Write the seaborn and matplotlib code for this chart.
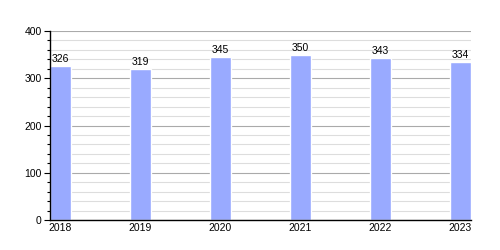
import matplotlib
matplotlib.use("Agg")
import matplotlib.pyplot as plt
import seaborn as sns
import pandas as pd
from matplotlib.ticker import MultipleLocator

years = ["2018", "2019", "2020", "2021", "2022", "2023"]
values = [326, 319, 345, 350, 343, 334]

df = pd.DataFrame({"year": years, "value": values})

sns.set_style("white")
plt.rcParams["font.family"] = ["Liberation Sans", "DejaVu Sans"]
plt.rcParams["text.color"] = "black"
plt.rcParams["xtick.color"] = "black"
plt.rcParams["ytick.color"] = "black"

fig = plt.figure(figsize=(5, 2.5), dpi=100)
ax = fig.add_axes([0.1, 0.12, 0.842, 0.756])

sns.barplot(data=df, x="year", y="value", color="#99aaff", width=0.2625,
            saturation=1, ax=ax, zorder=3)

ax.set_xlim(-0.1313, 5.1313)
ax.set_ylim(0, 400)
ax.yaxis.set_major_locator(MultipleLocator(100))
ax.yaxis.set_minor_locator(MultipleLocator(20))
ax.grid(which="major", axis="y", color="#aaaaaa", linewidth=0.8, zorder=0)
ax.grid(which="minor", axis="y", color="#dddddd", linewidth=0.8, zorder=0)
ax.set_axisbelow(True)

for s in ["top", "right"]:
    ax.spines[s].set_visible(False)
for s in ["left", "bottom"]:
    ax.spines[s].set_color("black")
    ax.spines[s].set_linewidth(1)
    ax.spines[s].set_zorder(5)

ax.tick_params(axis="y", which="major", length=4, width=0.8, color="black",
               labelsize=7.5, pad=2, left=True, labelcolor="black")
ax.tick_params(axis="y", which="minor", length=2, width=0.8, color="black", left=True)
ax.tick_params(axis="x", length=0, labelsize=7.5, pad=2, labelcolor="black")
ax.set_xlabel("")
ax.set_ylabel("")

for i, v in enumerate(values):
    ax.text(i, v + 4, str(v), ha="center", va="bottom", fontsize=7.5,
            color="black", zorder=6)

fig.savefig("out.png", dpi=100)
